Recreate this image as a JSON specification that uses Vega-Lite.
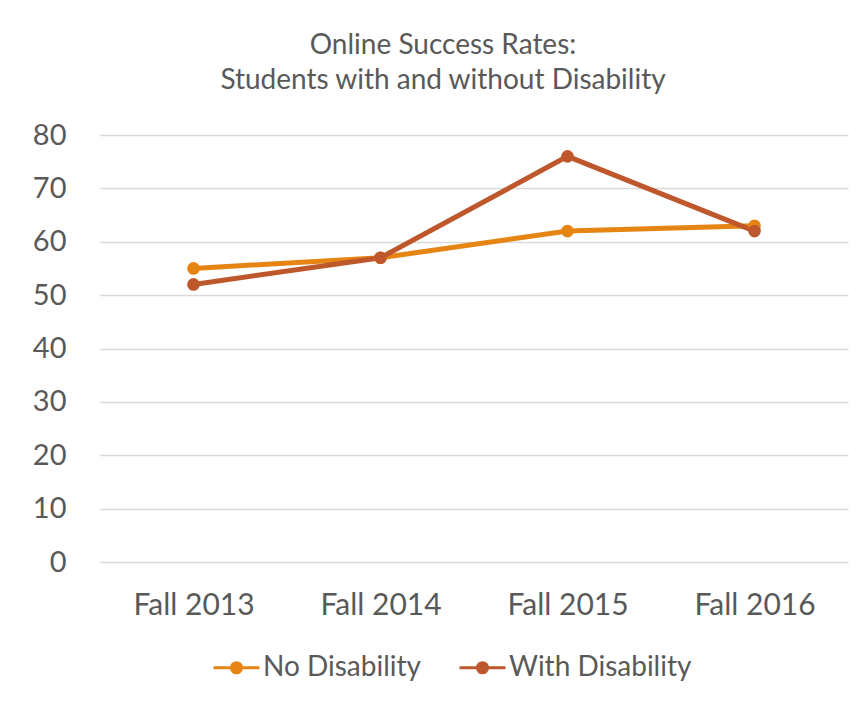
{
  "$schema": "https://vega.github.io/schema/vega-lite/v6.json",
  "width": 748,
  "height": 427,
  "autosize": {"type": "none"},
  "padding": {"left": 100, "top": 135, "right": 20, "bottom": 140},
  "background": "white",
  "title": {
    "text": ["Online Success Rates:", "Students with and without Disability"],
    "fontSize": 28,
    "fontWeight": "normal",
    "font": "Lato",
    "color": "#595959",
    "lineHeight": 35,
    "anchor": "middle",
    "offset": 26,
    "dx": -31
  },
  "data": {
    "values": [
      {"term": "Fall 2013", "group": "No Disability", "rate": 55},
      {"term": "Fall 2014", "group": "No Disability", "rate": 57},
      {"term": "Fall 2015", "group": "No Disability", "rate": 62},
      {"term": "Fall 2016", "group": "No Disability", "rate": 63},
      {"term": "Fall 2013", "group": "With Disability", "rate": 52},
      {"term": "Fall 2014", "group": "With Disability", "rate": 57},
      {"term": "Fall 2015", "group": "With Disability", "rate": 76},
      {"term": "Fall 2016", "group": "With Disability", "rate": 62}
    ]
  },
  "mark": {"type": "line", "strokeWidth": 5, "point": {"size": 160, "filled": true, "opacity": 1}},
  "encoding": {
    "x": {
      "field": "term",
      "type": "ordinal",
      "scale": {"padding": 0.5},
      "axis": {
        "title": null,
        "labelAngle": 0,
        "domain": false,
        "ticks": false,
        "grid": false,
        "labelFontSize": 30,
        "labelFont": "Lato",
        "labelColor": "#595959",
        "labelPadding": 28
      }
    },
    "y": {
      "field": "rate",
      "type": "quantitative",
      "scale": {"domain": [0, 80], "nice": false},
      "axis": {
        "title": null,
        "values": [0, 10, 20, 30, 40, 50, 60, 70, 80],
        "domain": false,
        "ticks": false,
        "grid": true,
        "gridColor": "#D9D9D9",
        "gridWidth": 1.5,
        "labelFontSize": 29,
        "labelFont": "Lato",
        "labelColor": "#595959",
        "labelPadding": 34
      }
    },
    "color": {
      "field": "group",
      "type": "nominal",
      "scale": {"domain": ["No Disability", "With Disability"], "range": ["#E68414", "#BE582C"]},
      "legend": {
        "title": null,
        "orient": "none",
        "legendX": 112,
        "legendY": 508,
        "direction": "horizontal",
        "labelFontSize": 28,
        "labelFont": "Lato",
        "labelColor": "#595959",
        "labelLimit": 400,
        "labelOffset": 2,
        "columnPadding": 32,
        "symbolType": "M-1,0H1M0.22,0A0.22,0.22,0,1,1,-0.22,0A0.22,0.22,0,1,1,0.22,0Z",
        "symbolSize": 2116,
        "symbolStrokeWidth": 3,
        "encode": {
          "symbols": {
            "update": {
              "fill": {"scale": "color", "field": "value"},
              "stroke": {"scale": "color", "field": "value"}
            }
          }
        }
      }
    }
  },
  "config": {
    "view": {"stroke": null}
  }
}
